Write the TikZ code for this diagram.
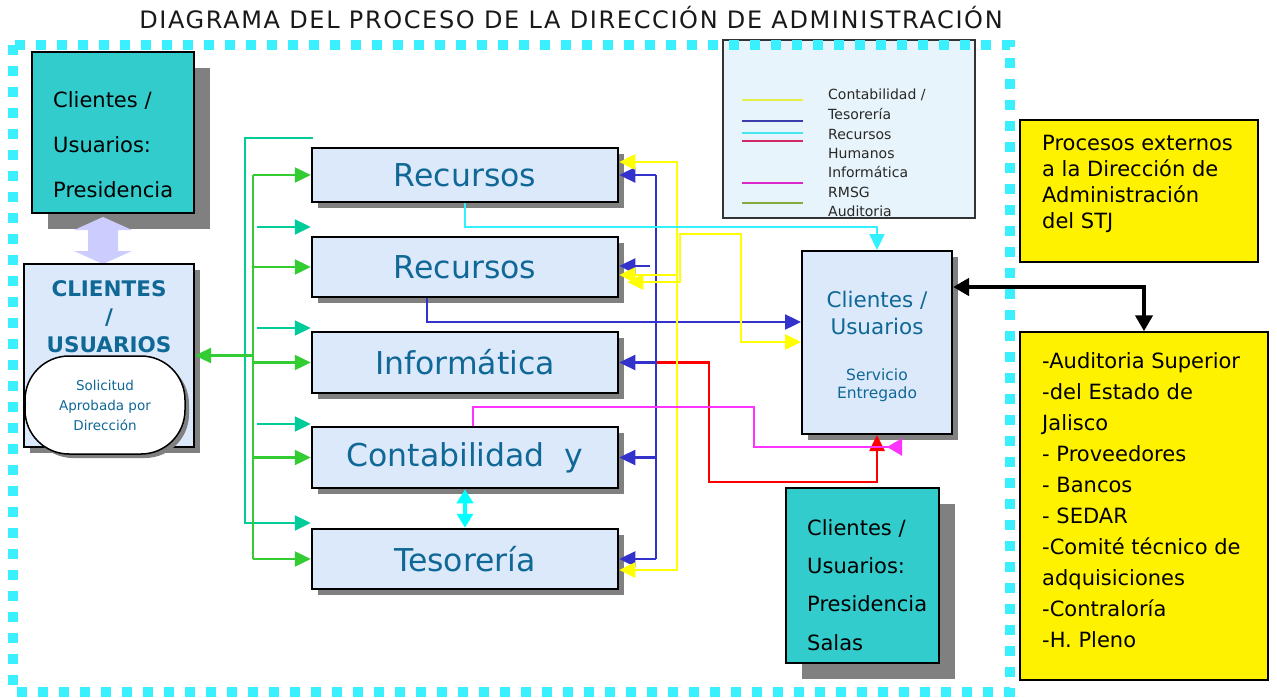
\documentclass[tikz,border=0pt]{standalone}
\usepackage{fontspec}
\setmainfont{DejaVu Sans}
\usetikzlibrary{arrows.meta,shadows,calc}
\definecolor{framec}{RGB}{58,240,255}
\definecolor{tealbox}{RGB}{51,204,204}
\definecolor{boxblue}{RGB}{220,233,251}
\definecolor{txtblue}{RGB}{16,104,150}
\definecolor{shgray}{RGB}{128,128,128}
\definecolor{legfill}{RGB}{232,244,251}
\definecolor{tealln}{RGB}{0,204,153}
\definecolor{greenln}{RGB}{51,204,51}
\definecolor{blueln}{RGB}{51,51,204}
\definecolor{yellowln}{RGB}{255,255,0}
\definecolor{cyanln}{RGB}{51,240,255}
\definecolor{cyantwo}{RGB}{0,255,255}
\definecolor{redln}{RGB}{255,0,0}
\definecolor{magln}{RGB}{255,51,255}
\definecolor{lav}{RGB}{204,204,255}
\definecolor{lgyellow}{RGB}{230,240,70}
\definecolor{lgblue}{RGB}{60,60,170}
\definecolor{lgcyan}{RGB}{70,230,240}
\definecolor{lgred}{RGB}{210,40,100}
\definecolor{lgmag}{RGB}{220,40,200}
\definecolor{lgolive}{RGB}{130,170,60}
\definecolor{lgtext}{RGB}{40,40,40}
\definecolor{titletext}{RGB}{25,25,25}
\begin{document}
\begin{tikzpicture}[x=1pt,y=-1pt,
  mainbox/.style={draw=black, line width=2.5pt, fill=boxblue, text=txtblue,
    font=\fontsize{31.5}{36}\selectfont, minimum width=306pt, inner sep=0pt,
    drop shadow={shadow xshift=6pt, shadow yshift=-6pt, fill=shgray, opacity=1}},
  tealnode/.style={draw=black, line width=2pt, fill=tealbox, inner sep=0pt,
    drop shadow={shadow xshift=16pt, shadow yshift=-16pt, fill=shgray, opacity=1}},
  ybox/.style={draw=black, line width=1.5pt, fill=yellow, inner sep=0pt},
  blktxt/.style={anchor=north west, align=left, inner sep=0pt, text=black},
  lgtxt/.style={anchor=base west, inner sep=0pt, text=lgtext, font=\fontsize{14}{16}\selectfont},
  arr/.style={-{Triangle[length=16pt,width=15pt]}},
  arrs/.style={{Triangle[length=16pt,width=15pt]}-{Triangle[length=16pt,width=15pt]}},
  tealc/.style={draw=tealln, line width=2.2pt},
  greenc/.style={draw=greenln, line width=2.4pt},
  bluec/.style={draw=blueln, line width=2.4pt},
  yellowc/.style={draw=yellowln, line width=2.6pt},
  cyanc/.style={draw=cyanln, line width=2.2pt},
  redc/.style={draw=redln, line width=2.6pt},
  magc/.style={draw=magln, line width=2.2pt},
]
\useasboundingbox (0,0) rectangle (1277,698);

% title
\node[font=\fontsize{24}{28}\selectfont\addfontfeature{LetterSpace=6.8}, text=titletext, anchor=base, inner sep=0pt] (title) at (571,29) {DIAGRAMA DEL PROCESO DE LA DIRECCIÓN DE ADMINISTRACIÓN};

% legend
\node[draw=black!80, line width=1.5pt, fill=legfill, minimum width=252pt, minimum height=178pt, inner sep=0pt] (lg) at (849,129) {};
\draw[lgyellow, line width=2.5pt] (742,100) -- (803,100);
\draw[lgblue, line width=2pt] (742,121) -- (803,121);
\draw[lgcyan, line width=2pt] (742,133) -- (803,133);
\draw[lgred, line width=2.5pt] (742,141) -- (803,141);
\draw[lgmag, line width=2.5pt] (742,183) -- (803,183);
\draw[lgolive, line width=2pt] (742,203) -- (803,203);
\node[lgtxt] (lt1) at (828,100) {Contabilidad /};
\node[lgtxt] (lt2) at (828,120) {Tesorería};
\node[lgtxt] (lt3) at (828,140) {Recursos};
\node[lgtxt] (lt4) at (828,159) {Humanos};
\node[lgtxt] (lt5) at (828,178) {Informática};
\node[lgtxt] (lt6) at (828,197) {RMSG};
\node[lgtxt] (lt7) at (828,216) {Auditoria};

% dotted frame
\draw[framec, line width=10pt, dash pattern=on 10pt off 11pt] (13,45) rectangle (1010,692);

% left column
\node[tealnode, minimum width=162pt, minimum height=161pt] (tl) at (113,132.5) {};
\node[blktxt, font=\fontsize{21}{45}\selectfont] (tlt) at (53,91) {Clientes /\\Usuarios:\\Presidencia};
\fill[lav] (103,217) -- (132,230) -- (118,230) -- (118,251) -- (132,251) -- (103,264) -- (74,251) -- (88,251) -- (88,230) -- (74,230) -- cycle;
\node[draw=black, line width=2pt, fill=boxblue, minimum width=170pt, minimum height=183pt, inner sep=0pt,
  drop shadow={shadow xshift=6pt, shadow yshift=-6pt, fill=shgray, opacity=1}] (cl) at (109,355.5) {};
\node[font=\bfseries\fontsize{21.5}{28}\selectfont, text=txtblue, align=center, anchor=north, inner sep=0pt] (clt) at (109,280) {CLIENTES\\/\\USUARIOS};
\node[draw=black, line width=1.5pt, fill=white, rounded corners=44pt, minimum width=160pt, minimum height=98pt,
  text=txtblue, font=\fontsize{13.5}{20}\selectfont, align=center, inner sep=0pt,
  drop shadow={shadow xshift=4pt, shadow yshift=-4pt, fill=shgray, opacity=1}] (sol) at (105,405) {Solicitud\\Aprobada por\\Dirección};

% main boxes
\node[mainbox, minimum height=54pt] (r1) at (465,175) {Recursos};
\node[mainbox, minimum height=60pt] (r2) at (465,267) {Recursos};
\node[mainbox, minimum height=61pt] (inf) at (465,362.5) {Informática};
\node[mainbox, minimum height=61pt] (cont) at (465,457.5) {Contabilidad~ y};
\node[mainbox, minimum height=60pt] (tes) at (465,559) {Tesorería};

% right clientes box
\node[draw=black, line width=2pt, fill=boxblue, minimum width=150pt, minimum height=183pt, inner sep=0pt,
  drop shadow={shadow xshift=6pt, shadow yshift=-6pt, fill=shgray, opacity=1}] (cu) at (877,342.5) {};
\node[font=\fontsize{21.5}{27}\selectfont, text=txtblue, align=center, anchor=north, inner sep=0pt] (cut1) at (877,291) {Clientes /\\Usuarios};
\node[font=\fontsize{15.5}{18}\selectfont, text=txtblue, align=center, anchor=north, inner sep=0pt] (cut2) at (877,369) {Servicio\\Entregado};

% bottom teal box
\node[tealnode, minimum width=153pt, minimum height=175pt] (bt) at (862.5,575.5) {};
\node[blktxt, font=\fontsize{21}{38.3}\selectfont] (btt) at (807,519) {Clientes /\\Usuarios:\\Presidencia\\Salas};

% yellow boxes
\node[ybox, minimum width=238pt, minimum height=142pt] (ya) at (1139,191) {};
\node[blktxt, font=\fontsize{21}{26}\selectfont] (yat) at (1042,135) {Procesos externos\\a la Dirección de\\Administración\\del STJ};
\node[ybox, minimum width=248pt, minimum height=348pt] (yb) at (1144,506) {};
\node[blktxt, font=\fontsize{21}{31}\selectfont] (ybt) at (1042,352.5) {-Auditoria Superior\\-del Estado de\\Jalisco\\- Proveedores\\- Bancos\\- SEDAR\\-Comité técnico de\\adquisiciones\\-Contraloría\\-H. Pleno};

% teal connectors
\coordinate (tA) at (313,138);
\coordinate (tB) at (245,138);
\coordinate (tC) at (245,523);
\draw[tealc, arr] (tA) -- (tB) -- (tC) -- (tC -| tes.west);
\coordinate (ts1) at (257,227);
\coordinate (ts2) at (257,328);
\coordinate (ts3) at (257,424);
\draw[tealc, arr] (ts1) -- (ts1 -| r1.west);
\draw[tealc, arr] (ts2) -- (ts2 -| r1.west);
\draw[tealc, arr] (ts3) -- (ts3 -| r1.west);

% green connectors
\coordinate (gT) at (253,175);
\coordinate (gB) at (253,559);
\draw[greenc] (gT) -- (gB);
\foreach \n in {r1,r2,inf,cont,tes} \draw[greenc, arr] (\n.west -| gT) -- (\n.west);
\draw[greenc, arr] (cl.east -| gT) -- (cl.east);

% red connector
\coordinate (bT) at (656,175);
\coordinate (bB) at (656,559);
\coordinate (rd1) at (709,362.5);
\coordinate (rd2) at (709,482);
\draw[redc, arr] (inf.east -| bT) -- (rd1) -- (rd2) -- (rd2 -| cu.south) -- (cu.south);

% blue connectors
\draw[bluec] (bT) -- (bB);
\foreach \n in {r1,inf,cont,tes} \draw[bluec, arr] (\n.east -| bT) -- (\n.east);
\coordinate (bs) at (650,266);
\draw[bluec, arr] (bs) -- (bs -| r2.east);
\coordinate (bb) at (427,322);
\draw[bluec, arr] (bb |- r2.south) -- (bb) -- (bb -| cu.west);

% yellow connectors
\coordinate (yT) at (677,162);
\coordinate (yB) at (677,570);
\draw[yellowc, arrs] (yT -| r1.east) -- (yT) -- (yB) -- (yB -| tes.east);
\coordinate (y2) at (677,275);
\draw[yellowc, arr] (y2) -- (y2 -| r2.east);
\coordinate (yc1) at (680,282);
\coordinate (yc2) at (680,234);
\coordinate (yc3) at (741,234);
\coordinate (yc4) at (741,342);
\draw[yellowc, arrs] ($(yc1 -| r2.east)+(8,0)$) -- (yc1) -- (yc2) -- (yc3) -- (yc4) -- (yc4 -| cu.west);

% cyan connector
\coordinate (cc) at (877,227);
\draw[cyanc, arr] (r1.south) -- (r1.south |- cc) -- (cc) -- (cu.north);

% magenta connector
\coordinate (m1) at (473,407);
\coordinate (m2) at (754,407);
\coordinate (m3) at (754,447);
\coordinate (m4) at (902,447);
\draw[magc, -{Triangle[reversed,length=15pt,width=17pt]}] (m1 |- cont.north) -- (m1) -- (m2) -- (m3) -- (m4);

% cyan double arrow
\draw[draw=cyantwo, line width=3.5pt, {Triangle[length=14pt,width=16pt]}-{Triangle[length=14pt,width=16pt]}] (cont.south) -- (tes.north);

% black double arrow
\coordinate (k1) at (1144,287);
\draw[black, line width=4.5pt, {Triangle[length=16pt,width=17pt]}-{Triangle[length=16pt,width=17pt]}] (k1 -| cu.east) -- (k1) -- (yb.north);
\end{tikzpicture}
\end{document}
